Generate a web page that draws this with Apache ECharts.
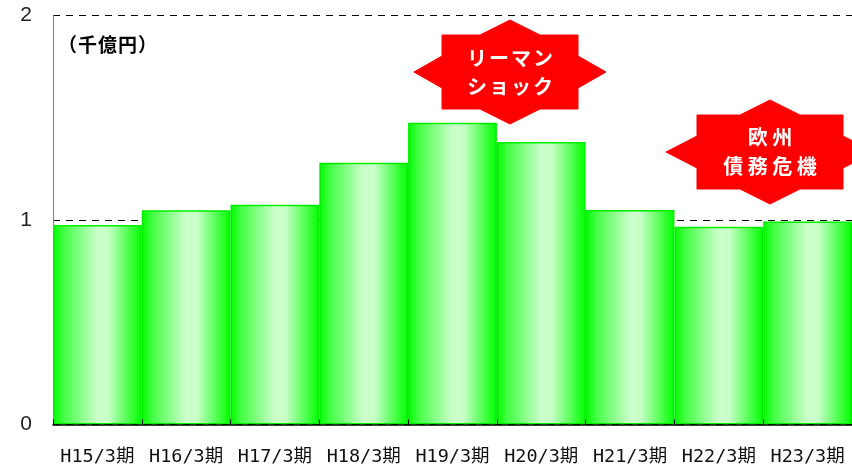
<!DOCTYPE html>
<html>
<head>
<meta charset="utf-8">
<style>
  html, body { margin: 0; padding: 0; background: #ffffff; }
  #chart { width: 852px; height: 467px; }
</style>
<script src="https://cdn.jsdelivr.net/npm/echarts@6/dist/echarts.min.js"></script>
</head>
<body>
<div id="chart"></div>
<script>
// ---- data ----
const categories = ['H15/3期', 'H16/3期', 'H17/3期', 'H18/3期', 'H19/3期', 'H20/3期', 'H21/3期', 'H22/3期', 'H23/3期'];
const values = [0.976, 1.048, 1.075, 1.28, 1.476, 1.382, 1.049, 0.967, 0.993];
const yTicks = [0, 1, 2];
const unitLabel = '（千億円）';
const callout1 = ['リーマン', 'ショック'];
const callout2 = ['欧州', '債務危機'];

// ---- helpers ----
function starPoints(cx, cy, hw, hh, sx, sy, dx, dy) {
  return [
    [cx, cy - hh], [cx + dx, cy - sy], [cx + sx, cy - sy], [cx + sx, cy - dy],
    [cx + hw, cy], [cx + sx, cy + dy], [cx + sx, cy + sy], [cx + dx, cy + sy],
    [cx, cy + hh], [cx - dx, cy + sy], [cx - sx, cy + sy], [cx - sx, cy + dy],
    [cx - hw, cy], [cx - sx, cy - dy], [cx - sx, cy - sy], [cx - dx, cy - sy]
  ];
}
// text laid out character by character with a fixed pitch (letter-spaced)
function spacedText(str, cx, cy, pitch, font, fill) {
  const chars = Array.from(str);
  return chars.map((ch, i) => ({
    type: 'text',
    x: cx + (i - (chars.length - 1) / 2) * pitch,
    y: cy,
    style: { text: ch, fill: fill, align: 'center', verticalAlign: 'middle', font: font },
    z: 11
  }));
}
function calloutGraphics(cx, cy, hw, sx, lines, fs, pitch, gap) {
  let g = [{
    type: 'polygon',
    shape: { points: starPoints(cx, cy, hw, 52, sx, 37, 30, 16) },
    style: { fill: '#ff0000', stroke: '#ff0000' },
    z: 10
  }];
  lines.forEach((t, i) => {
    g = g.concat(spacedText(t, cx, cy + (i - (lines.length - 1) / 2) * gap, pitch,
      'bold ' + fs + 'px "Noto Sans CJK JP", sans-serif', '#ffffff'));
  });
  return g;
}

const chart = echarts.init(document.getElementById('chart'), null, { renderer: 'canvas' });

const barGradient = new echarts.graphic.LinearGradient(0, 0, 1, 0, [
  { offset: 0, color: '#00ff00' },
  { offset: 0.12, color: '#44ff44' },
  { offset: 0.5, color: '#ccffcc' },
  { offset: 0.62, color: '#c8ffc8' },
  { offset: 0.9, color: '#33ff33' },
  { offset: 1, color: '#00ff00' }
]);

chart.setOption({
  animation: false,
  backgroundColor: '#ffffff',
  grid: { left: 53, right: 0, top: 15.5, bottom: 42.5, containLabel: false },
  xAxis: {
    type: 'category',
    data: categories,
    axisLine: { show: true, lineStyle: { color: '#000000', width: 1.5 } },
    axisTick: { show: true, inside: true, length: 5, lineStyle: { color: '#000000' } },
    axisLabel: {
      interval: 0,
      hideOverlap: false,
      margin: 23,
      fontSize: 18.5,
      color: '#111111',
      fontFamily: '"DejaVu Sans Mono", "Noto Sans CJK JP", monospace'
    },
    z: 5
  },
  yAxis: {
    type: 'value',
    min: yTicks[0],
    max: yTicks[yTicks.length - 1],
    interval: 1,
    axisLine: { show: true, lineStyle: { color: '#808080', width: 1 } },
    axisTick: { show: false },
    axisLabel: {
      margin: 21,
      fontSize: 21,
      color: '#222222',
      fontFamily: 'Arial, "Liberation Sans", sans-serif'
    },
    splitLine: { show: true, lineStyle: { color: '#000000', type: [7, 6], width: 1 } }
  },
  series: [{
    type: 'bar',
    data: values,
    barCategoryGap: '0%',
    itemStyle: { color: barGradient, borderColor: '#00ee00', borderWidth: 1.5 },
    z: 2
  }],
  graphic: spacedText(unitLabel, 107.5, 45, 20, 'bold 19px "Noto Sans CJK JP", sans-serif', '#000000').concat(
    calloutGraphics(510, 72, 96, 68, callout1, 20, 22, 28),
    calloutGraphics(770, 152, 104, 73, callout2, 20, 24.5, 29)
  )
});
</script>
</body>
</html>
